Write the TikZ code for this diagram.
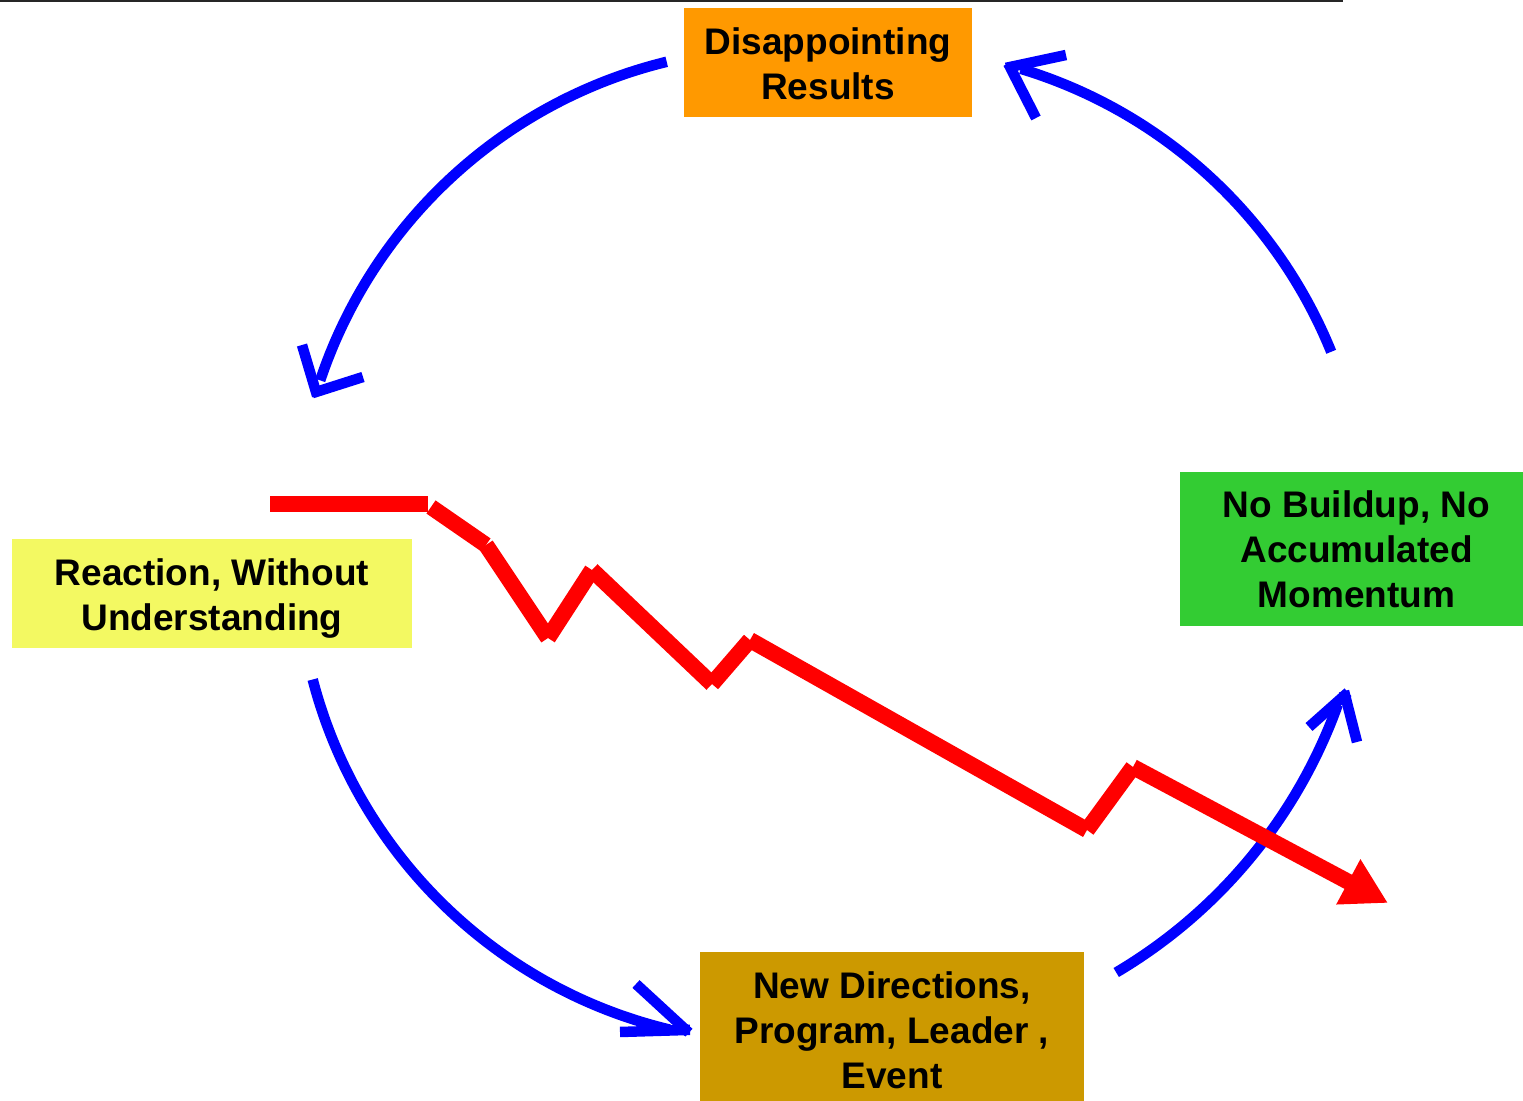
\documentclass[tikz,border=0pt]{standalone}
\usepackage{fontspec}
\setmainfont{Liberation Sans}
\usetikzlibrary{arrows.meta}
\definecolor{cycblue}{HTML}{0000FF}
\definecolor{trendred}{HTML}{FF0000}
\definecolor{boxorange}{HTML}{FF9900}
\definecolor{boxyellow}{HTML}{F3F962}
\definecolor{boxgreen}{HTML}{33CC33}
\definecolor{boxgold}{HTML}{CC9900}
\begin{document}
\begin{tikzpicture}[x=0.5pt,y=-0.5pt,
  box/.style={inner sep=0pt},
  label text/.style={inner sep=0pt, align=center,
    font=\bfseries\fontsize{18.5}{22.5}\selectfont},
  cyc/.style={draw=cycblue, line width=5.25pt, line cap=butt},
  trend/.style={draw=trendred, line width=8pt, line cap=butt}]
\useasboundingbox (0,0) rectangle (1523,1101);

% rule along the top edge
\draw[black!85, line width=1.1pt] (0,1) -- (1343,1);

% the four stages of the cycle
\node[box, fill=boxorange, minimum width=144pt, minimum height=54.5pt]
  (disp) at (828,62.5) {};
\node[label text] at ([yshift=-0.5pt]disp.center) {Disappointing\\Results};
\node[box, fill=boxyellow, minimum width=200pt, minimum height=54.5pt]
  (react) at (212,593.5) {};
\node[label text] at ([yshift=-2.5pt]react.center) {Reaction, Without\\Understanding};
\node[box, fill=boxgreen, minimum width=171.5pt, minimum height=77pt]
  (nobuild) at (1351.5,549) {};
\node[label text] at ([xshift=2.5pt]nobuild.center) {No Buildup, No\\Accumulated\\Momentum};
\node[box, fill=boxgold, minimum width=192pt, minimum height=74.5pt]
  (newdir) at (892,1026.5) {};
\node[label text] at ([yshift=-1.8pt]newdir.center) {New Directions,\\Program, Leader ,\\Event};

% arc ends and arrow barbs
\coordinate (s1) at (666.7,61.8);
\coordinate (t1) at (316,392);  \coordinate (b1a) at (302,345);  \coordinate (b1b) at (363,377);
\coordinate (s2) at (1331.2,351.8);
\coordinate (t2) at (1010,67);  \coordinate (b2a) at (1066,55);  \coordinate (b2b) at (1036,118);
\coordinate (s3) at (312.7,679.5);
\coordinate (t3) at (686,1030); \coordinate (b3a) at (636,984);  \coordinate (b3b) at (620,1032);
\coordinate (s4) at (1116.2,972.5);
\coordinate (t4) at (1345,695); \coordinate (b4a) at (1309,727); \coordinate (b4b) at (1357,742);

% cycle arrows, each barb drawn as two butt-ended strokes
\draw[cyc] (s1) arc[start angle=-103.7, end angle=-161.5, radius=487];
\draw[cyc, shorten <=-2pt] (t1) -- (b1a);
\draw[cyc, shorten <=-2pt] (t1) -- (b1b);
\draw[cyc] (s2) arc[start angle=-22.1, end angle=-73.2, radius=487];
\draw[cyc, shorten <=-2pt] (t2) -- (b2a);
\draw[cyc, shorten <=-2pt] (t2) -- (b2b);
\draw[cyc] (s3) arc[start angle=165.4, end angle=103.5, radius=486];
\draw[cyc, shorten <=-2pt] (t3) -- (b3a);
\draw[cyc, shorten <=-2pt] (t3) -- (b3b);
\draw[cyc] (s4) arc[start angle=59.4, end angle=19.8, radius=513];
\draw[cyc, shorten <=-2pt] (t4) -- (b4a);
\draw[cyc, shorten <=-2pt] (t4) -- (b4b);

% declining trend line
\coordinate (r0) at (270,504);
\coordinate (r1) at (428,504);
\coordinate (p0) at (431,507);
\coordinate (p1) at (486,545);
\coordinate (p2) at (548,638);
\coordinate (p3) at (592,570);
\coordinate (p4) at (712,684);
\coordinate (p5) at (750,640);
\coordinate (p6) at (1087,830);
\coordinate (p7) at (1133,767);
\coordinate (p8) at (1388,903);
\draw[trend] (r0) -- (r1);
\draw[trend] (p0) -- (p1);
\draw[trend] (p1) -- (p2);
\draw[trend] (p2) -- (p3);
\draw[trend] (p3) -- (p4);
\draw[trend] (p4) -- (p5);
\draw[trend] (p5) -- (p6);
\draw[trend] (p6) -- (p7);
\draw[trend, -{Triangle[length=22.5pt, width=24pt]}] (p7) -- (p8);
\end{tikzpicture}
\end{document}
